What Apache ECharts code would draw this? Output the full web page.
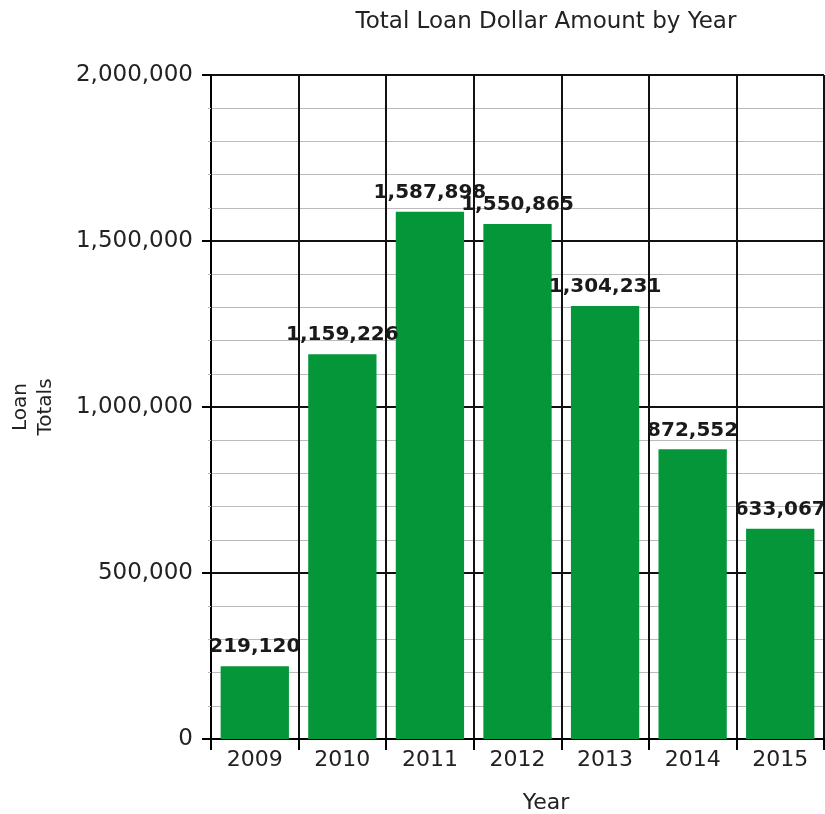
<!DOCTYPE html>
<html>
<head>
<meta charset="utf-8">
<script src="https://cdn.jsdelivr.net/npm/echarts@6/dist/echarts.min.js"></script>
<style>html,body{margin:0;padding:0;background:#fff}#c{width:825px;height:814px}</style>
</head>
<body>
<div id="c"></div>
<script>
const years = ['2009', '2010', '2011', '2012', '2013', '2014', '2015'];
const loanTotals = [219120, 1159226, 1587898, 1550865, 1304231, 872552, 633067];
const yTicks = [0, 500000, 1000000, 1500000, 2000000];

const fmt = v => Math.round(v).toString().replace(/\B(?=(\d{3})+(?!\d))/g, ',');
const FONT = 'DejaVu Sans';

const chart = echarts.init(document.getElementById('c'), null, {renderer: 'canvas'});
chart.setOption({
  animation: false,
  backgroundColor: '#fff',
  grid: {left: 211, top: 75, right: 1, bottom: 75, containLabel: false, outerBoundsMode: 'none'},
  graphic: [
    {type: 'text', x: 546, y: 22, style: {text: 'Total Loan Dollar Amount by Year', font: '23px "DejaVu Sans"', fill: '#222', align: 'center', verticalAlign: 'middle'}},
    {type: 'text', x: 546, y: 803, style: {text: 'Year', font: '22px "DejaVu Sans"', fill: '#222', align: 'center', verticalAlign: 'middle'}}
  ],
  xAxis: {
    type: 'category',
    data: years,
    boundaryGap: true,
    axisLine: {show: true, lineStyle: {color: '#000', width: 2}},
    axisTick: {show: true, length: 11, alignWithLabel: false, lineStyle: {color: '#000', width: 2}},
    axisLabel: {margin: 10, color: '#222', fontFamily: FONT, fontSize: 22},
    splitLine: {show: true, lineStyle: {color: '#111', width: 2}}
  },
  yAxis: {
    type: 'value',
    min: yTicks[0],
    max: yTicks[yTicks.length - 1],
    interval: yTicks[1] - yTicks[0],
    name: 'Loan\nTotals',
    nameLocation: 'middle',
    nameRotate: 90,
    nameGap: 153,
    nameTextStyle: {color: '#222', fontFamily: FONT, fontSize: 20, lineHeight: 25},
    axisLine: {show: true, lineStyle: {color: '#000', width: 2}},
    axisTick: {show: true, length: 9, lineStyle: {color: '#000', width: 2}},
    axisLabel: {margin: 18, color: '#222', fontFamily: FONT, fontSize: 23, formatter: fmt},
    splitLine: {show: true, lineStyle: {color: '#111', width: 2}},
    minorTick: {show: true, splitNumber: 5, length: 3, lineStyle: {color: '#bbb'}},
    minorSplitLine: {show: true, lineStyle: {color: '#bbb', width: 1.2}}
  },
  series: [{
    type: 'bar',
    data: loanTotals,
    barCategoryGap: '22%',
    itemStyle: {color: '#06963a'},
    label: {
      show: true,
      position: 'top',
      distance: 9,
      color: '#1a1a1a',
      fontFamily: FONT,
      fontWeight: 'bold',
      fontSize: 20,
      formatter: p => fmt(p.value)
    }
  }]
});
</script>
</body>
</html>
